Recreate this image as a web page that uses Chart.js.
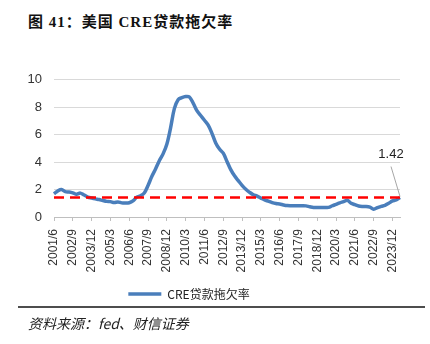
<!DOCTYPE html>
<html>
<head>
<meta charset="utf-8">
<script src="https://cdn.jsdelivr.net/npm/chart.js@4.4.1/dist/chart.umd.min.js"></script>
<style>
    html, body {
        margin: 0;
        padding: 0;
        width: 430px;
        height: 344px;
        overflow: hidden;
        background: #fff;
        position: relative;
    }
    .title {
        position: absolute;
        left: 28px;
        top: 10px;
        font: bold 15px "Liberation Serif", "Noto Sans CJK SC", serif;
        letter-spacing: 1px;
        color: #111;
        white-space: nowrap;
    }
    .chart-box {
        position: absolute;
        left: -22px;
        top: 60px;
        width: 452px;
        height: 250px;
    }
    .rule {
        position: absolute;
        left: 18px;
        top: 306px;
        width: 407px;
        height: 2px;
        background: #4d4d4d;
    }
    .source {
        position: absolute;
        left: 28px;
        top: 313px;
        font: italic 14px "Noto Sans CJK SC", sans-serif;
        color: #222;
        white-space: nowrap;
    }
</style>
</head>
<body>
<div class="title">图 41：美国 CRE贷款拖欠率</div>
<div class="chart-box"><canvas id="cre_chart"></canvas></div>
<div class="rule"></div>
<div class="source">资料来源：fed、财信证券</div>

<script>
// quarter-end labels, 2001/6 .. 2024/6
const quarters = [
    "2001/6", "2001/9", "2001/12",
    "2002/3", "2002/6", "2002/9", "2002/12",
    "2003/3", "2003/6", "2003/9", "2003/12",
    "2004/3", "2004/6", "2004/9", "2004/12",
    "2005/3", "2005/6", "2005/9", "2005/12",
    "2006/3", "2006/6", "2006/9", "2006/12",
    "2007/3", "2007/6", "2007/9", "2007/12",
    "2008/3", "2008/6", "2008/9", "2008/12",
    "2009/3", "2009/6", "2009/9", "2009/12",
    "2010/3", "2010/6", "2010/9", "2010/12",
    "2011/3", "2011/6", "2011/9", "2011/12",
    "2012/3", "2012/6", "2012/9", "2012/12",
    "2013/3", "2013/6", "2013/9", "2013/12",
    "2014/3", "2014/6", "2014/9", "2014/12",
    "2015/3", "2015/6", "2015/9", "2015/12",
    "2016/3", "2016/6", "2016/9", "2016/12",
    "2017/3", "2017/6", "2017/9", "2017/12",
    "2018/3", "2018/6", "2018/9", "2018/12",
    "2019/3", "2019/6", "2019/9", "2019/12",
    "2020/3", "2020/6", "2020/9", "2020/12",
    "2021/3", "2021/6", "2021/9", "2021/12",
    "2022/3", "2022/6", "2022/9", "2022/12",
    "2023/3", "2023/6", "2023/9", "2023/12",
    "2024/3", "2024/6",
];

// CRE loan delinquency rate, %
const delinquency = [
    1.69, 1.9, 2.0,
    1.85, 1.82, 1.76, 1.66,
    1.74, 1.6, 1.45, 1.38,
    1.32, 1.27, 1.2, 1.14,
    1.12, 1.05, 1.1, 1.03,
    1.02, 1.04, 1.17, 1.45,
    1.55, 1.75, 2.3, 2.95,
    3.5, 4.1, 4.6, 5.3,
    6.5, 7.9, 8.55, 8.7,
    8.78, 8.75, 8.3, 7.75,
    7.4, 7.05, 6.7, 6.1,
    5.4, 4.95, 4.65, 4.05,
    3.45, 3.0, 2.65, 2.3,
    2.02, 1.8, 1.62, 1.52,
    1.38, 1.25, 1.15, 1.05,
    0.98, 0.95, 0.88, 0.83,
    0.82, 0.82, 0.82, 0.82,
    0.81, 0.75, 0.7, 0.7,
    0.7, 0.7, 0.7, 0.82,
    0.92, 1.03, 1.12, 1.22,
    1.0, 0.9, 0.8, 0.77,
    0.77, 0.72, 0.57, 0.68,
    0.78, 0.85, 1.0, 1.17,
    1.24, 1.42,
];

// latest reading, drawn as the red reference line
const latest = 1.42;

const yTicks = [0, 2, 4, 6, 8, 10];

Chart.defaults.font.family = "'Liberation Sans', 'Noto Sans CJK SC', sans-serif";
Chart.defaults.color = "#333";

// label + leader line on the last point
const lastValueLabel = {
    id: "lastValueLabel",
    afterDatasetsDraw(chart) {
        const meta = chart.getDatasetMeta(1);
        const pt = meta.data[meta.data.length - 1];
        const ctx = chart.ctx;
        ctx.save();
        ctx.strokeStyle = "#a6a6a6";
        ctx.lineWidth = 1;
        ctx.beginPath();
        ctx.moveTo(pt.x - 9, pt.y - 31);
        ctx.lineTo(pt.x, pt.y - 1);
        ctx.stroke();
        ctx.fillStyle = "#222";
        ctx.font = "13px 'Liberation Sans', sans-serif";
        ctx.textAlign = "center";
        ctx.textBaseline = "middle";
        ctx.fillText(delinquency[delinquency.length - 1].toFixed(2), pt.x - 9, pt.y - 43);
        ctx.restore();
    },
};

const cre_chart = document.getElementById("cre_chart");
new Chart(cre_chart, {
    type: "line",
    data: {
        labels: quarters,
        datasets: [
            {
                label: "latest",
                data: quarters.map(() => latest),
                borderColor: "#ff0000",
                borderWidth: 2.5,
                borderDash: [10, 6],
                pointRadius: 0,
                fill: false,
                order: 0,
            },
            {
                label: "CRE贷款拖欠率",
                data: delinquency,
                borderColor: "#4a7ebb",
                backgroundColor: "#4a7ebb",
                borderWidth: 3.5,
                pointRadius: 0,
                tension: 0.35,
                fill: false,
                order: 1,
            },
        ],
    },
    options: {
        responsive: true,
        maintainAspectRatio: false,
        animation: false,
        layout: {
            padding: { top: 16, right: 30, bottom: 0, left: 0 },
        },
        plugins: {
            tooltip: { enabled: false },
            legend: {
                position: "bottom",
                labels: {
                    filter: (item) => item.text !== "latest",
                    usePointStyle: true,
                    pointStyle: "line",
                    pointStyleWidth: 33,
                    font: { size: 12, family: "'Noto Sans CJK SC', sans-serif" },
                    color: "#222",
                },
            },
        },
        scales: {
            x: {
                offset: false,
                afterFit: (scale) => {
                    scale.height = 61;
                },
                grid: {
                    drawOnChartArea: false,
                    drawTicks: true,
                    tickLength: 4,
                    color: (c) => (c.index % 5 === 0 ? "#bfbfbf" : "rgba(0,0,0,0)"),
                },
                border: { display: true, color: "#bfbfbf" },
                ticks: {
                    autoSkip: false,
                    maxRotation: 90,
                    minRotation: 90,
                    padding: 8,
                    font: { size: 12 },
                    callback: function (value, index) {
                        return index % 5 === 0 ? quarters[index] : "";
                    },
                },
            },
            y: {
                min: yTicks[0],
                max: yTicks[yTicks.length - 1],
                afterFit: (scale) => {
                    scale.width = 76;
                },
                grid: {
                    color: "#d9d9d9",
                    lineWidth: 1,
                    drawTicks: false,
                },
                border: { display: false },
                ticks: {
                    stepSize: 2,
                    padding: 12,
                    font: { size: 13 },
                },
            },
        },
    },
    plugins: [lastValueLabel],
});
</script>
</body>
</html>
